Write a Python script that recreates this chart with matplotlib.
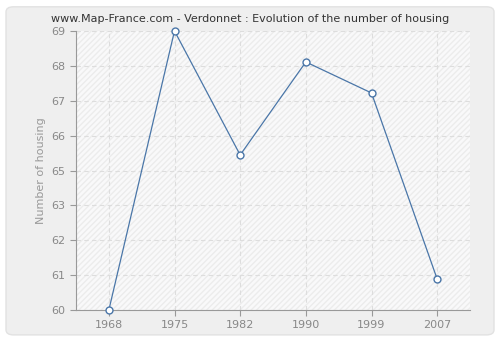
import matplotlib
matplotlib.use("Agg")
import matplotlib.pyplot as plt
from matplotlib.patches import FancyBboxPatch, Rectangle
import numpy as np

# data
years = ["1968", "1975", "1982", "1990", "1999", "2007"]
housing = [60, 69, 65, 68, 67, 61]
y_ticks = np.linspace(60, 69, 9)
y_labels = ["60", "61", "62", "63", "65", "66", "67", "68", "69"]

fig = plt.figure(figsize=(5, 3.4), dpi=100)
fig.patch.set_facecolor("white")
# rounded grey panel behind the chart
panel = FancyBboxPatch((0.012, 0.015), 0.976, 0.965, boxstyle="round,pad=0,rounding_size=0.015",
                       transform=fig.transFigure, facecolor="#efefef", edgecolor="#e2e2e2", lw=1,
                       zorder=-10)
fig.patches.append(panel)

ax = fig.add_axes([0.152, 0.088, 0.788, 0.821])
ax.set_facecolor("#f9f9fa")
ax.add_patch(Rectangle((0, 0), 1, 1, transform=ax.transAxes, facecolor="none",
                       hatch="//////", edgecolor="#ececec", lw=0, zorder=0))

x = np.arange(len(years))
ax.plot(x, housing, color="#4a76a8", lw=0.9, marker="o", ms=5, mfc="white", mec="#4a76a8", mew=1,
        zorder=3, clip_on=False)

ax.set_xlim(-0.5, 5.5)
ax.set_ylim(60, 69)
ax.set_xticks(x)
ax.set_xticklabels(years)
ax.set_yticks(y_ticks)
ax.set_yticklabels(y_labels)

ax.grid(True, color="#dddddd", ls=(0, (4, 3)), lw=0.8)
ax.set_axisbelow(True)
for s in ["top", "right"]:
    ax.spines[s].set_visible(False)
for s in ["left", "bottom"]:
    ax.spines[s].set_color("#999999")
ax.tick_params(colors="#999999", labelcolor="#888888", labelsize=8, length=4, width=0.8)

ax.set_ylabel("Number of housing", color="#999999", fontsize=8)
fig.text(0.5, 0.945, "www.Map-France.com - Verdonnet : Evolution of the number of housing",
         ha="center", va="center", fontsize=8, color="#333333")

fig.savefig("out.png", dpi=100, facecolor=fig.get_facecolor())
